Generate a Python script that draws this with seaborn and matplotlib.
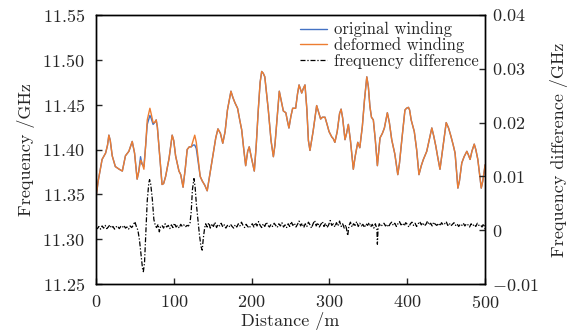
import numpy as np
import pandas as pd
import matplotlib
matplotlib.use("Agg")
import matplotlib.pyplot as plt
import seaborn as sns
from matplotlib.ticker import FuncFormatter, FixedLocator

# ---------------- data ----------------
dist = [0, 3, 8, 12.5, 15, 16.7, 18.5, 21, 25, 30, 34, 38, 42.4, 46.7, 49.7, 53, 55, 57.4, 59,
        61.7, 64, 66, 69.4, 71, 73.5, 75.5, 77.5, 79, 81, 85, 87, 89.6, 94, 98, 100, 102.4,
        106.7, 109, 112, 115, 117.3, 120, 122.5, 125, 127, 129, 132, 134, 136.6, 140, 143,
        146, 150.4, 154, 156.8, 160, 163, 166, 169, 173.5, 176, 178.7, 182, 185, 187.3, 190,
        192.4, 195, 197, 200, 203.5, 206, 208.6, 211, 213, 215, 217, 219, 221.5, 225, 228,
        230, 232, 235.6, 238, 240.8, 244, 246, 248, 250.5, 252.8, 256.6, 259, 261, 264.4,
        266.5, 268.6, 271, 273, 275, 279, 283.6, 286, 288.7, 291, 294.3, 297, 299.5, 303,
        305, 307, 310, 313, 315, 317, 320, 322, 324.3, 327, 330.7, 333, 336.4, 339, 342.3,
        345, 348, 350, 352, 354, 356.4, 359, 361.6, 365, 368, 370.6, 374.4, 377, 380, 384,
        387.8, 390, 393, 397, 399, 401.5, 403, 405, 409, 412, 415, 418, 420.7, 425, 428,
        431.5, 434, 436.6, 439, 442, 446.5, 450, 453, 456, 459, 461.4, 465, 467, 470, 473,
        476.5, 478.5, 480.7, 483, 486, 488, 490.6, 493, 495, 497, 500]

deformed = [11.345, 11.365, 11.389, 11.396, 11.405, 11.416, 11.410, 11.393, 11.381, 11.378,
            11.376, 11.393, 11.398, 11.409, 11.396, 11.367, 11.375, 11.388, 11.386,
            11.378, 11.405, 11.433, 11.446, 11.440, 11.430, 11.430, 11.433, 11.425, 11.404,
            11.361, 11.362, 11.370, 11.390, 11.416, 11.410, 11.393,
            11.376, 11.372, 11.358, 11.380, 11.400, 11.403, 11.403, 11.410, 11.416, 11.408,
            11.385, 11.370, 11.365, 11.360, 11.354,
            11.370, 11.393, 11.413, 11.423, 11.418, 11.407, 11.420, 11.444, 11.465, 11.458,
            11.452, 11.446, 11.432, 11.422, 11.400,
            11.382, 11.398, 11.403, 11.390, 11.376, 11.405, 11.444, 11.475, 11.487, 11.485,
            11.481, 11.465, 11.444, 11.410, 11.392,
            11.405, 11.426, 11.465, 11.455, 11.443, 11.441, 11.432, 11.424, 11.437, 11.446,
            11.446, 11.462, 11.472, 11.463,
            11.468, 11.472, 11.445, 11.410, 11.399, 11.420, 11.449, 11.442, 11.434, 11.436,
            11.436, 11.428, 11.420, 11.414,
            11.412, 11.408, 11.420, 11.440, 11.445, 11.435, 11.411, 11.418, 11.428, 11.410,
            11.378, 11.392, 11.408, 11.402, 11.426,
            11.455, 11.481, 11.470, 11.448, 11.436, 11.433, 11.410, 11.382, 11.413, 11.418,
            11.424, 11.441, 11.430, 11.411, 11.395,
            11.372, 11.385, 11.411, 11.444, 11.446, 11.447, 11.444, 11.433, 11.420, 11.400,
            11.372, 11.382, 11.389, 11.398, 11.410,
            11.424, 11.415, 11.404, 11.392, 11.378, 11.407, 11.430, 11.424, 11.415, 11.405,
            11.396, 11.357, 11.365, 11.385, 11.392,
            11.398, 11.394, 11.389, 11.398, 11.406, 11.400, 11.389, 11.372, 11.357, 11.365,
            11.383]

original = list(deformed)
# where the original winding departs visibly from the deformed one
original_changes = {57.4: 11.392, 59: 11.384, 61.7: 11.381, 66: 11.428, 69.4: 11.438,
                    71: 11.435, 73.5: 11.428, 125: 11.405, 127: 11.405, 129: 11.401,
                    132: 11.382}
for k, v in original_changes.items():
    original[dist.index(k)] = v

diff_dist = [0, 2, 4, 6, 8, 10, 12, 14, 16, 18, 20, 22, 24, 26, 28, 30, 32, 34, 36, 38,
             40, 42, 44, 46, 48, 50, 52, 54, 56, 58, 60, 61, 62.5, 64, 66, 68, 69, 70.5,
             72.5, 74.5, 76.5, 78, 80, 81.5, 83, 85, 87, 89, 91, 93, 95, 97, 99, 101, 103,
             105, 107, 109, 111, 113, 115, 117, 119, 121, 122.5, 124, 126, 127.5, 129, 131,
             133, 135, 136.6, 138, 139.7, 141, 143, 145, 147, 149, 151, 153, 155, 157, 159,
             161, 163, 165, 167, 169, 171, 173, 175, 177, 179, 181, 183, 185, 187, 189, 191,
             193, 195, 197, 199, 201, 203, 205, 207, 209, 211, 213, 215, 217, 219, 221, 223,
             225, 227, 229, 231, 233, 235, 237, 239, 241, 243, 245, 247, 249, 251, 253, 255,
             257, 259, 261, 263, 265, 267, 269, 271, 273, 275, 277, 279, 281, 283, 285, 287,
             289, 291, 293, 295, 297, 299, 301, 303, 305, 307, 309, 311, 313, 315, 317, 319,
             321, 323.5, 325, 327, 329, 331, 333, 335, 337, 339, 341, 343, 345, 347, 349, 351,
             353, 355, 357, 359, 361, 361.6, 362.5, 364, 366, 368, 370, 372, 374, 376, 378,
             380, 382, 384, 386, 388, 390, 392, 394, 396, 398, 400, 402, 404, 406, 408, 410,
             412, 414, 416, 418, 420, 422, 424, 426, 428, 430, 432, 434, 436, 438, 440, 442,
             444, 446, 448, 450, 452, 454, 456, 458, 460, 462, 464, 466, 468, 470, 472, 474,
             476, 478, 480, 482, 484, 486, 488, 490, 492, 494, 496, 498, 500]

freq_diff = [0.0005, 0.0003, 0.0007, 0.0002, 0.0008, 0.0004, 0.0009, 0.0003, 0.0006, 0.0010,
             0.0004, 0.0007, 0.0002, 0.0006, 0.0008, 0.0003, 0.0007, 0.0005, 0.0009, 0.0004,
             0.0006, 0.0002, 0.0008, 0.0005, 0.0009, 0.0016, 0.0007, 0.0000, -0.0018, -0.0045,
             -0.0072, -0.0077, -0.0060, -0.0012, 0.0055, 0.0088, 0.0094, 0.0085,
             0.0058, 0.0020, 0.0008, 0.0005, 0.0011, -0.0003, 0.0006, 0.0009, 0.0004, 0.0012,
             0.0006, 0.0009, 0.0003, 0.0010, 0.0005, 0.0013, 0.0006,
             0.0009, 0.0004, 0.0011, 0.0007, 0.0010, 0.0006, 0.0009, 0.0008, 0.0014, 0.0035,
             0.0075, 0.0096, 0.0080, 0.0050, 0.0022,
             -0.0008, -0.0030, -0.0037, -0.0015, 0.0004, 0.0012, 0.0006, 0.0014, 0.0004,
             0.0012, 0.0007, 0.0015, 0.0005, 0.0011, 0.0008,
             0.0013, 0.0006, 0.0010, 0.0004, 0.0009, 0.0006, 0.0011, 0.0007, 0.0004, 0.0010,
             0.0006, 0.0012, 0.0008, 0.0015, 0.0009, 0.0005,
             0.0011, 0.0007, 0.0004, 0.0009, 0.0012, 0.0006, 0.0014, 0.0008, 0.0016, 0.0009,
             0.0005, 0.0012, 0.0007, 0.0015, 0.0009, 0.0006,
             0.0011, 0.0007, 0.0013, 0.0009, 0.0005, 0.0012, 0.0008, 0.0014, 0.0006, 0.0010,
             0.0005, 0.0012, 0.0007, 0.0016, 0.0009, 0.0013,
             0.0006, 0.0011, 0.0017, 0.0008, 0.0013, 0.0005, 0.0012, 0.0007, 0.0015, 0.0010,
             0.0004, 0.0012, 0.0018, 0.0008, 0.0014, 0.0006,
             0.0011, 0.0016, 0.0007, 0.0013, 0.0005, 0.0010, 0.0018, 0.0009, 0.0012, 0.0006,
             0.0014, 0.0008, 0.0017, 0.0007, 0.0012, 0.0004,
             0.0010, -0.0010, 0.0008, 0.0015, 0.0006, 0.0012, 0.0009, 0.0016, 0.0007, 0.0013,
             0.0008, 0.0011, 0.0005, 0.0012, 0.0009, 0.0014,
             0.0006, 0.0011, 0.0004, 0.0012, 0.0002, -0.0026, 0.0003, 0.0012, 0.0007, 0.0010,
             0.0013, 0.0008, 0.0011, 0.0006, 0.0012,
             0.0015, 0.0009, 0.0013, 0.0007, 0.0012, 0.0016, 0.0010, 0.0013, 0.0008, 0.0014,
             0.0011, 0.0006, 0.0012, 0.0015, 0.0009, 0.0013,
             0.0007, 0.0012, 0.0016, 0.0010, 0.0014, 0.0008, 0.0011, 0.0017, 0.0010, 0.0013,
             0.0008, 0.0015, 0.0011, 0.0009, 0.0013, 0.0008,
             0.0014, 0.0010, 0.0012, 0.0016, 0.0009, 0.0013, 0.0008, 0.0011, 0.0014, 0.0009,
             0.0012, 0.0007, 0.0011, 0.0009, 0.0013, 0.0008,
             0.0012, 0.0010, 0.0006, 0.0012, 0.0008, 0.0011, 0.0007, 0.0013, 0.0009, 0.0010,
             0.0006, 0.0012, 0.0002]

left_ticks = [11.25, 11.30, 11.35, 11.40, 11.45, 11.50, 11.55]
right_ticks = [-0.01, 0.0, 0.01, 0.02, 0.03, 0.04]
x_ticks = [0, 100, 200, 300, 400, 500]

labels = ["original winding", "deformed winding", "frequency difference"]
colors = ["#4472C4", "#ED7D31", "black"]

# ---------------- plot ----------------
sns.set_style("white")
plt.rcParams["font.family"] = ["cmr10", "DejaVu Serif"]
plt.rcParams["mathtext.fontset"] = "cm"
plt.rcParams["axes.unicode_minus"] = False

fig = plt.figure(figsize=(5.81, 3.33), dpi=100)
ax = fig.add_axes([0.165, 0.147, 0.67, 0.808])
ax2 = ax.twinx()

df = pd.DataFrame({"dist": dist, "original": original, "deformed": deformed})
ddf = pd.DataFrame({"dist": diff_dist, "diff": freq_diff})

sns.lineplot(data=df, x="dist", y="original", ax=ax, color=colors[0], lw=1.0,
             estimator=None, label=labels[0], legend=False)
sns.lineplot(data=df, x="dist", y="deformed", ax=ax, color=colors[1], lw=1.0,
             estimator=None, label=labels[1], legend=False)
sns.lineplot(data=ddf, x="dist", y="diff", ax=ax2, color=colors[2], lw=0.9,
             estimator=None, label=labels[2], legend=False)
ax2.lines[0].set_dashes([4, 1.5, 1, 1.5])

ax.set_xlim(0, 500)
ax.set_ylim(11.25, 11.55)
ax2.set_ylim(-0.01, 0.04)

fs = 13
ax.xaxis.set_major_locator(FixedLocator(x_ticks))
ax.yaxis.set_major_locator(FixedLocator(left_ticks))
ax2.yaxis.set_major_locator(FixedLocator(right_ticks))
ax.xaxis.set_major_formatter(FuncFormatter(lambda v, p: r"$%d$" % v))
ax.yaxis.set_major_formatter(FuncFormatter(lambda v, p: r"$%.2f$" % v))
ax2.yaxis.set_major_formatter(
    FuncFormatter(lambda v, p: r"$0$" if abs(v) < 1e-9 else (r"$-%.2f$" % abs(v) if v < 0 else r"$%.2f$" % v)))

for a in (ax, ax2):
    a.tick_params(direction="in", length=4, width=1.0, labelsize=fs)
    for s in a.spines.values():
        s.set_linewidth(1.0)
        s.set_color("black")
ax.tick_params(axis="y", left=True, right=False, pad=8)
ax.tick_params(axis="x", bottom=True, top=False, pad=7)
ax2.tick_params(axis="y", right=True, left=False, pad=5)

ax.set_xlabel("Distance /m", fontsize=fs, labelpad=1)
ax.set_ylabel("Frequency /GHz", fontsize=fs, labelpad=5)
ax2.set_ylabel("Frequency difference /GHz", fontsize=fs, labelpad=8)

handles = ax.get_lines()[:2] + ax2.get_lines()[:1]
ax2.legend(handles, labels, loc="upper right", bbox_to_anchor=(1.0, 1.0), frameon=False,
           fontsize=12, handlelength=1.6, handletextpad=0.4, labelspacing=0.0,
           borderpad=0.2, borderaxespad=0.2)

fig.savefig("out.png", dpi=100)
